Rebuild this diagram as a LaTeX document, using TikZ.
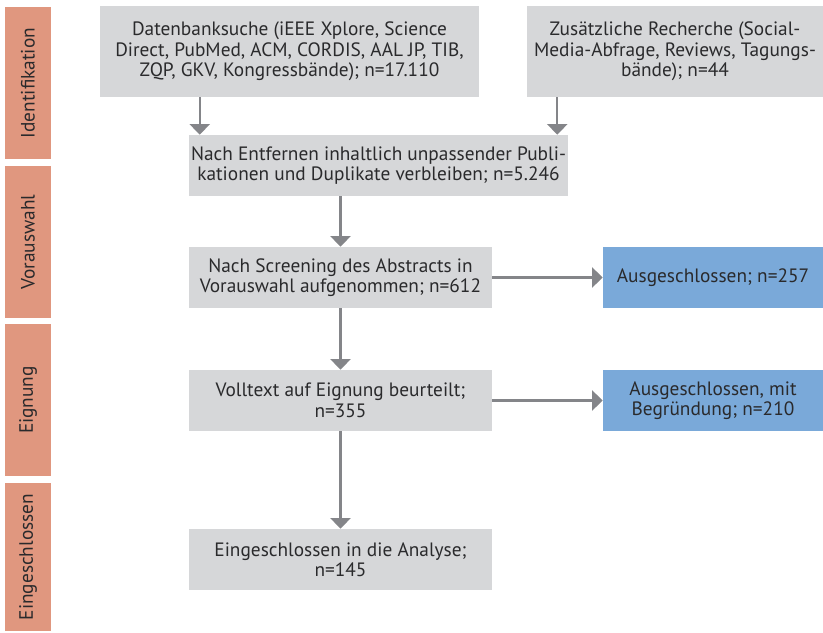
\documentclass[tikz,border=0pt]{standalone}
\usepackage{fontspec}
\setmainfont{PT Sans}
\usepackage{xcolor}
\usetikzlibrary{arrows.meta}

\definecolor{boxgray}{HTML}{D6D7D9}
\definecolor{exblue}{HTML}{7AA9D9}
\definecolor{phasered}{HTML}{E0977F}
\definecolor{arrgray}{HTML}{848589}
\definecolor{textdark}{HTML}{2A2A2C}

\tikzset{
  stepbox/.style={fill=boxgray, inner sep=0pt, align=center, text=textdark,
    font=\fontsize{14.5}{15.4}\selectfont},
  exbox/.style={stepbox, fill=exblue},
  phase/.style={fill=phasered, inner sep=0pt, rotate=90, text=textdark,
    minimum height=46*0.75pt, font=\fontsize{14.5}{15.4}\selectfont},
  arr/.style={draw=arrgray, line width=1.8pt, -{Triangle[width=15pt,length=8pt]}}
}

\begin{document}
\begin{tikzpicture}[x=0.75pt,y=-0.75pt]
\useasboundingbox (0,0) rectangle (823,632);

% phases
\node[phase, minimum width=152*0.75pt] (ident) at (28,83) {Identifikation};
\node[phase, minimum width=152*0.75pt] (vorw) at (28,242) {Vorauswahl};
\node[phase, minimum width=152*0.75pt] (eign) at (28,400) {Eignung};
\node[phase, minimum width=148*0.75pt] (eing) at (28,557) {Eingeschlossen};

% boxes
\node[stepbox, minimum width=379*0.75pt, minimum height=91*0.75pt] (db) at (289.5,51.5)
  {Datenbanksuche (iEEE Xplore, Science\\ Direct, PubMed, ACM, CORDIS, AAL JP, TIB,\\ ZQP, GKV, Kongressbände); n=17.110};
\node[stepbox, minimum width=296*0.75pt, minimum height=91*0.75pt] (zus) at (675,51.5)
  {Zusätzliche Recherche (Social-\\ Media-Abfrage, Reviews, Tagungs-\\ bände); n=44};
\node[stepbox, minimum width=379*0.75pt, minimum height=61*0.75pt] (entf) at (378.5,165.5)
  {Nach Entfernen inhaltlich unpassender Publi-\\ kationen und Duplikate verbleiben; n=5.246};
\node[stepbox, minimum width=303*0.75pt, minimum height=61*0.75pt] (scr) at (340.5,277.5)
  {Nach Screening des Abstracts in\\ Vorauswahl aufgenommen; n=612};
\node[exbox, minimum width=220*0.75pt, minimum height=61*0.75pt] (aus1) at (713,277.5)
  {Ausgeschlossen; n=257};
\node[stepbox, minimum width=303*0.75pt, minimum height=61*0.75pt] (voll) at (340.5,400.5)
  {Volltext auf Eignung beurteilt;\\ n=355};
\node[exbox, minimum width=220*0.75pt, minimum height=61*0.75pt] (aus2) at (713,400.5)
  {Ausgeschlossen, mit\\ Begründung; n=210};
\node[stepbox, minimum width=303*0.75pt, minimum height=61*0.75pt] (ana) at (340.5,559.5)
  {Eingeschlossen in die Analyse;\\ n=145};

% arrows
\coordinate (inL) at ([xshift=11*0.75pt]entf.north west);
\coordinate (inR) at ([xshift=-11*0.75pt]entf.north east);
\draw[arr] (db.south -| inL) -- (inL);
\draw[arr] (zus.south -| inR) -- (inR);
\draw[arr] (entf.south -| scr.north) -- (scr.north);
\draw[arr] (scr.east) -- (aus1.west);
\draw[arr] (scr.south) -- (voll.north);
\draw[arr] (voll.east) -- (aus2.west);
\draw[arr] (voll.south) -- (ana.north);
\end{tikzpicture}
\end{document}
